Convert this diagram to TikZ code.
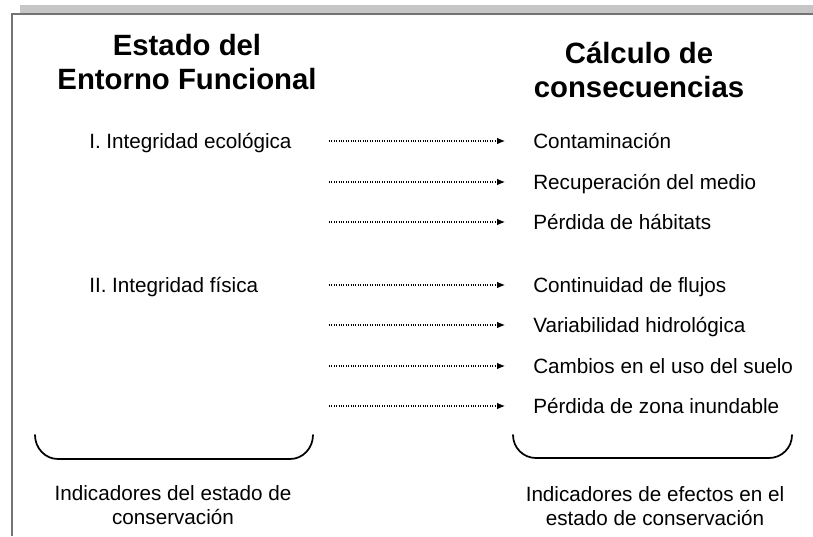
\documentclass[tikz,border=0pt]{standalone}
\usepackage{fontspec}
\setmainfont{Liberation Sans}
\usetikzlibrary{arrows.meta}
\begin{document}
\begin{tikzpicture}[x=0.75pt,y=-0.75pt,
  titulo/.style={font=\fontsize{22}{25.5}\selectfont\bfseries,align=center,inner sep=0},
  item/.style={font=\fontsize{15.5}{18}\selectfont,anchor=west,inner sep=0,text height=11pt,text depth=0pt},
  pie/.style={font=\fontsize{15.5}{18}\selectfont,align=center,inner sep=0},
  flecha/.style={densely dotted,line width=0.8pt,-{Latex[length=6pt,width=5pt]},shorten >=21pt},
  llave/.style={line width=1.3pt,line cap=round}]

  \useasboundingbox (0,0) rectangle (813,536);
  % marco
  \fill[gray!45] (20,5) rectangle (813,13);
  \draw[gray!90!black,line width=1.2pt] (11,14) -- (813,14);
  \draw[gray!90!black,line width=1.5pt] (12,14) -- (12,536);

  % titulos
  \node[titulo] (estado) at (187,62) {Estado del\\Entorno Funcional};
  \node[titulo] (calculo) at (639,70) {Cálculo de\\consecuencias};

  % indicadores de estado
  \node[item] (I) at (89,141) {I. Integridad ecológica};
  \node[item] (II) at (89,285) {II. Integridad física};

  % consecuencias
  \node[item] (c1) at (533,141) {Contaminación};
  \node[item] (c2) at (533,182) {Recuperación del medio};
  \node[item] (c3) at (533,222) {Pérdida de hábitats};
  \node[item] (c4) at (533,285) {Continuidad de flujos};
  \node[item] (c5) at (533,325) {Variabilidad hidrológica};
  \node[item] (c6) at (533,366) {Cambios en el uso del suelo};
  \node[item] (c7) at (533,406) {Pérdida de zona inundable};

  \coordinate (t1) at (329,141);
  \coordinate (t2) at (329,182);
  \coordinate (t3) at (329,222);
  \coordinate (t4) at (329,285);
  \coordinate (t5) at (329,325);
  \coordinate (t6) at (329,366);
  \coordinate (t7) at (329,406);

  \path[flecha]
   (t1) edge (c1.west)
   (t2) edge (c2.west)
   (t3) edge (c3.west)
   (t4) edge (c4.west)
   (t5) edge (c5.west)
   (t6) edge (c6.west)
   (t7) edge (c7.west);

  % llaves
  \draw[llave] (35,435) to[out=-90,in=180] (58,459) -- (290,459) to[out=0,in=-90] (313,435);
  \draw[llave] (513,435) to[out=-90,in=180] (536,458) -- (769,458) to[out=0,in=-90] (792,435);

  % pies
  \node[pie] (pie1) at (173,505) {Indicadores del estado de\\conservación};
  \node[pie] (pie2) at (655,506) {Indicadores de efectos en el\\estado de conservación};
\end{tikzpicture}
\end{document}
